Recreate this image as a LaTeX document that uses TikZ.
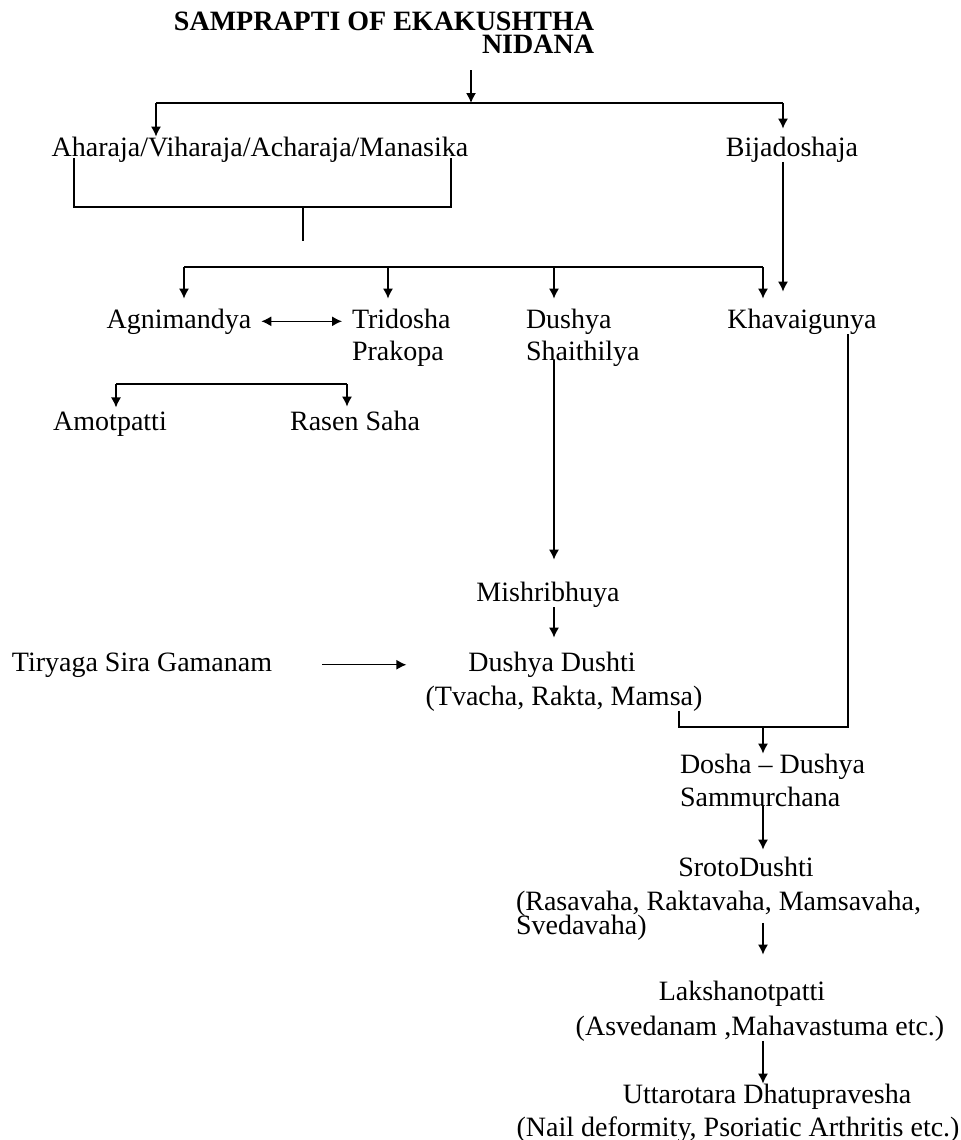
\documentclass[tikz,border=0pt]{standalone}
\usepackage{fontspec}
\setmainfont{Liberation Serif}
\usetikzlibrary{arrows.meta}
\newcommand\mytightlines{\lineskiplimit=-20pt\relax}
\begin{document}
\begin{tikzpicture}[x=0.5pt,y=-0.5pt,
  txt/.style={inner sep=0pt,outer sep=0pt,font=\fontsize{14}{16}\selectfont,anchor=base},
  arr/.style={-{Latex[length=5pt,width=5pt]},line width=0.65pt},
  darr/.style={{Latex[length=5pt,width=5pt]}-{Latex[length=5pt,width=5pt]},line width=0.65pt},
  bar/.style={line width=1.3pt}]
\useasboundingbox (0,0) rectangle (960,1140);

% ---- nodes (multi-line nodes: base = last line's baseline) ----
\node[txt,anchor=base east,align=right,font={\bfseries\fontsize{14}{11}\selectfont\mytightlines}] (title) at (594,53) {SAMPRAPTI OF EKAKUSHTHA\\NIDANA};
\node[txt] (aha) at (260,156) {Aharaja/Viharaja/Acharaja/Manasika};
\node[txt] (bija) at (792,156) {Bijadoshaja};
\node[txt] (agni) at (179,328) {Agnimandya};
\node[txt,anchor=base west,align=left] (tri) at (352,360) {Tridosha\\Prakopa};
\node[txt,anchor=base west,align=left] (dushya) at (526,360) {Dushya\\Shaithilya};
\node[txt] (khava) at (802,328) {Khavaigunya};
\node[txt] (amot) at (110,430) {Amotpatti};
\node[txt] (rasen) at (355,430) {Rasen Saha};
\node[txt] (mishri) at (548,601) {Mishribhuya};
\node[txt] (tiry) at (142,671) {Tiryaga Sira Gamanam};
\node[txt] (dd) at (552,671) {Dushya Dushti};
\node[txt] (ddsub) at (564,705) {(Tvacha, Rakta, Mamsa)};
\node[txt,anchor=base west,align=left,font=\fontsize{14}{16.5}\selectfont] (dosha) at (680,806) {Dosha – Dushya\\Sammurchana};
\node[txt] (sroto) at (746,876) {SrotoDushti};
\node[txt,anchor=base west,align=left,font={\fontsize{14}{12}\selectfont\mytightlines}] (srotosub) at (516,934) {(Rasavaha, Raktavaha, Mamsavaha,\\Svedavaha)};
\node[txt] (laksh) at (742,1000) {Lakshanotpatti};
\node[txt] (lakshsub) at (760,1035) {(Asvedanam ,Mahavastuma etc.)};
\node[txt] (utt) at (767,1103) {Uttarotara Dhatupravesha};
\node[txt] (uttsub) at (738,1136) {(Nail deformity, Psoriatic Arthritis etc.)};

% ---- junction coordinates ----
\coordinate (jt) at (471,103);
\coordinate (jl) at (156,103);
\coordinate (jr) at (783,103);
\coordinate (bl) at (74,207);
\coordinate (br) at (451,207);
\coordinate (bm) at (303,207);
\coordinate (bs) at (303,241);
\coordinate (r2l) at (184,267);
\coordinate (r2r) at (763,267);
\coordinate (cT) at (388,267);
\coordinate (cD) at (554,267);
\coordinate (cB) at (783,0);
\coordinate (a2l) at (116,384);
\coordinate (a2r) at (347,384);
\coordinate (m1) at (679,727);
\coordinate (m2) at (848,727);
\coordinate (cR) at (763,727);

% ---- connectors ----
\draw[arr,shorten <=8.5pt] (title.south -| jt) -- (jt);
\draw[bar] (jl) -- (jr);
\draw[arr] (jl) -- (jl |- aha.north);
\draw[arr,shorten >=4pt] (jr) -- (jr |- bija.north);

\draw[bar] ([yshift=2pt]aha.south -| bl) -- (bl) -- (br) -- ([yshift=2pt]aha.south -| br);
\draw[bar] (bm) -- (bs);

\draw[bar] (r2l) -- (r2r);
\draw[arr,shorten >=5pt] (r2l) -- (r2l |- agni.north);
\draw[arr,shorten >=5pt] (cT) -- (cT |- tri.north);
\draw[arr,shorten >=5pt] (cD) -- (cD |- dushya.north);
\draw[arr,shorten >=5pt] (r2r) -- (r2r |- khava.north);
\draw[arr,shorten >=8.5pt] (bija.south -| cB) -- (cB |- khava.north);

\draw[darr,shorten <=5pt,shorten >=5pt] (agni.east) -- (agni.east -| tri.west);

\draw[bar] (a2l) -- (a2r);
\draw[arr,shorten >=2pt] (a2l) -- (a2l |- amot.north);
\draw[arr,shorten >=2pt] (a2r) -- (a2r |- rasen.north);

\draw[arr,shorten <=-3pt,shorten >=11pt] (dushya.south -| cD) -- (cD |- mishri.north);
\draw[arr,shorten >=7pt] (mishri.south -| cD) -- (cD |- dd.north);
\draw[arr,shorten <=25pt,shorten >=31pt] (tiry.east) -- (tiry.east -| dd.west);

\draw[bar] (ddsub.south -| m1) -- (m1) -- (m2) -- (khava.south -| m2);
\draw[arr] (cR) -- (cR |- dosha.north);
\draw[arr,shorten >=3.5pt] (dosha.south -| cR) -- (cR |- sroto.north);
\draw[arr,shorten <=-8.5pt,shorten >=13pt] (srotosub.south -| cR) -- (cR |- laksh.north);
\draw[arr] (lakshsub.south -| cR) -- (cR |- utt.north);
\end{tikzpicture}
\end{document}
